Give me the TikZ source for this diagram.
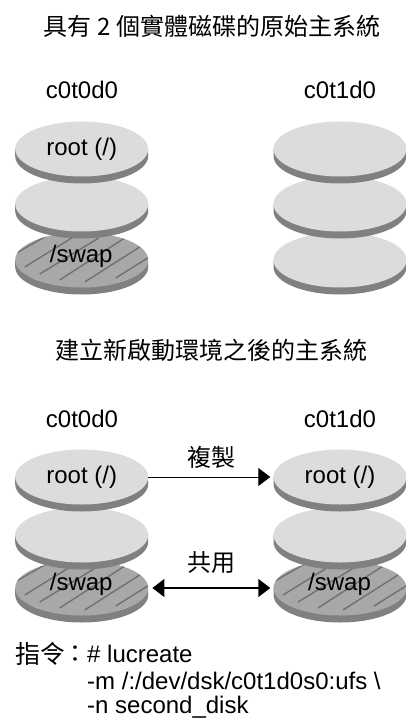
\documentclass[tikz,border=0pt]{standalone}
\usepackage{fontspec}
\setmainfont{Liberation Sans}
\newfontfamily\cjk{Noto Sans CJK TC}
\usetikzlibrary{shapes.geometric,arrows.meta}
\definecolor{disktop}{HTML}{DCDCDC}
\definecolor{diskside}{HTML}{808080}
\definecolor{swaptop}{HTML}{A8A8A8}
\definecolor{hatchc}{HTML}{707070}
\tikzset{
  x=1pt,y=-1pt,
  disk/.style={ellipse,minimum width=133pt,minimum height=55pt,inner sep=0pt,fill=disktop,font=\fontsize{24}{28}\selectfont},
  lab/.style={font=\fontsize{24}{28}\selectfont,inner sep=0pt},
  title/.style={font=\cjk\fontsize{24}{28}\selectfont,inner sep=0pt},
  conn/.style={black,{Triangle[length=12pt,width=18pt]}-{Triangle[length=12pt,width=18pt]}},
}
\newcommand{\diskside}[2]{%
  \fill[diskside] (#1-66.5,#2) -- (#1-66.5,#2+7) arc[start angle=180,end angle=0,x radius=66.5,y radius=27.5] -- (#1+66.5,#2) -- cycle;
}
\newcommand{\plaindisk}[4]{%
  \diskside{#2}{#3}
  \node[disk] (#1) at (#2,#3) {#4};
}
\newcommand{\swapdisk}[3]{%
  \diskside{#2}{#3}
  \node[disk,fill=swaptop] (#1) at (#2,#3) {};
  \begin{scope}[shift={(#2,#3)}]
    \clip (0,0) ellipse[x radius=66.5,y radius=27.5];
    \draw[hatchc,line width=1.4pt]
      (-65,-7) -- (-32,-26)
      (-57,7) -- (-10,-22)
      (-42,14) -- (17,-22)
      (-22,20) -- (43,-22)
      (3,22) -- (58,-13)
      (34,18) -- (66,-2);
  \end{scope}
  \node[inner sep=0pt,font=\fontsize{24}{28}\selectfont] at (#2-.5,#3-4) {/swap};
}
\begin{document}
\begin{tikzpicture}
\useasboundingbox (0,0) rectangle (406,719);
\fill[white] (0,0) rectangle (406,719);
\node[title] (t1) at (212,26) {具有 2 個實體磁碟的原始主系統};
\node[lab] (l1) at (82,90) {c0t0d0};
\node[lab] (l2) at (340,90) {c0t1d0};
\swapdisk{a3}{81.7}{260}
\plaindisk{a2}{81.7}{204}{}
\plaindisk{a1}{81.7}{149}{root (/)}
\plaindisk{b3}{340}{260}{}
\plaindisk{b2}{340}{204}{}
\plaindisk{b1}{340}{149}{}
\node[title] (t2) at (211,350) {建立新啟動環境之後的主系統};
\node[lab] (l3) at (82,419) {c0t0d0};
\node[lab] (l4) at (340,419) {c0t1d0};
\swapdisk{c3}{81.7}{588}
\plaindisk{c2}{81.7}{535}{}
\plaindisk{c1}{81.7}{477}{root (/)}
\swapdisk{d3}{340}{588}
\plaindisk{d2}{340}{535}{}
\plaindisk{d1}{340}{477}{root (/)}
\draw[black,line width=.9pt,-{Triangle[length=12pt,width=18pt]},shorten >=3pt] (c1.east) -- (d1.west);
\draw[black,line width=1.4pt,conn,shorten >=3pt,shorten <=4pt] (c3.east) -- (d3.west);
\node[title] (e1) at (211,457) {複製};
\node[title] (e2) at (211,563) {共用};
\node[anchor=west,inner sep=0pt,font=\cjk\fontsize{25}{28}\selectfont] (cmd) at (15,654) {指令};
\node[inner sep=0pt,font=\cjk\fontsize{24}{28}\selectfont] (colon) at (75,654) {：};
\node[lab,anchor=base west] (c1t) at (87,662) {\# lucreate};
\node[lab,anchor=base west] (c2t) at (87,689) {-m /:/dev/dsk/c0t1d0s0:ufs \textbackslash};
\node[lab,anchor=base west] (c3t) at (87,713) {-n second\_disk};
\end{tikzpicture}
\end{document}
